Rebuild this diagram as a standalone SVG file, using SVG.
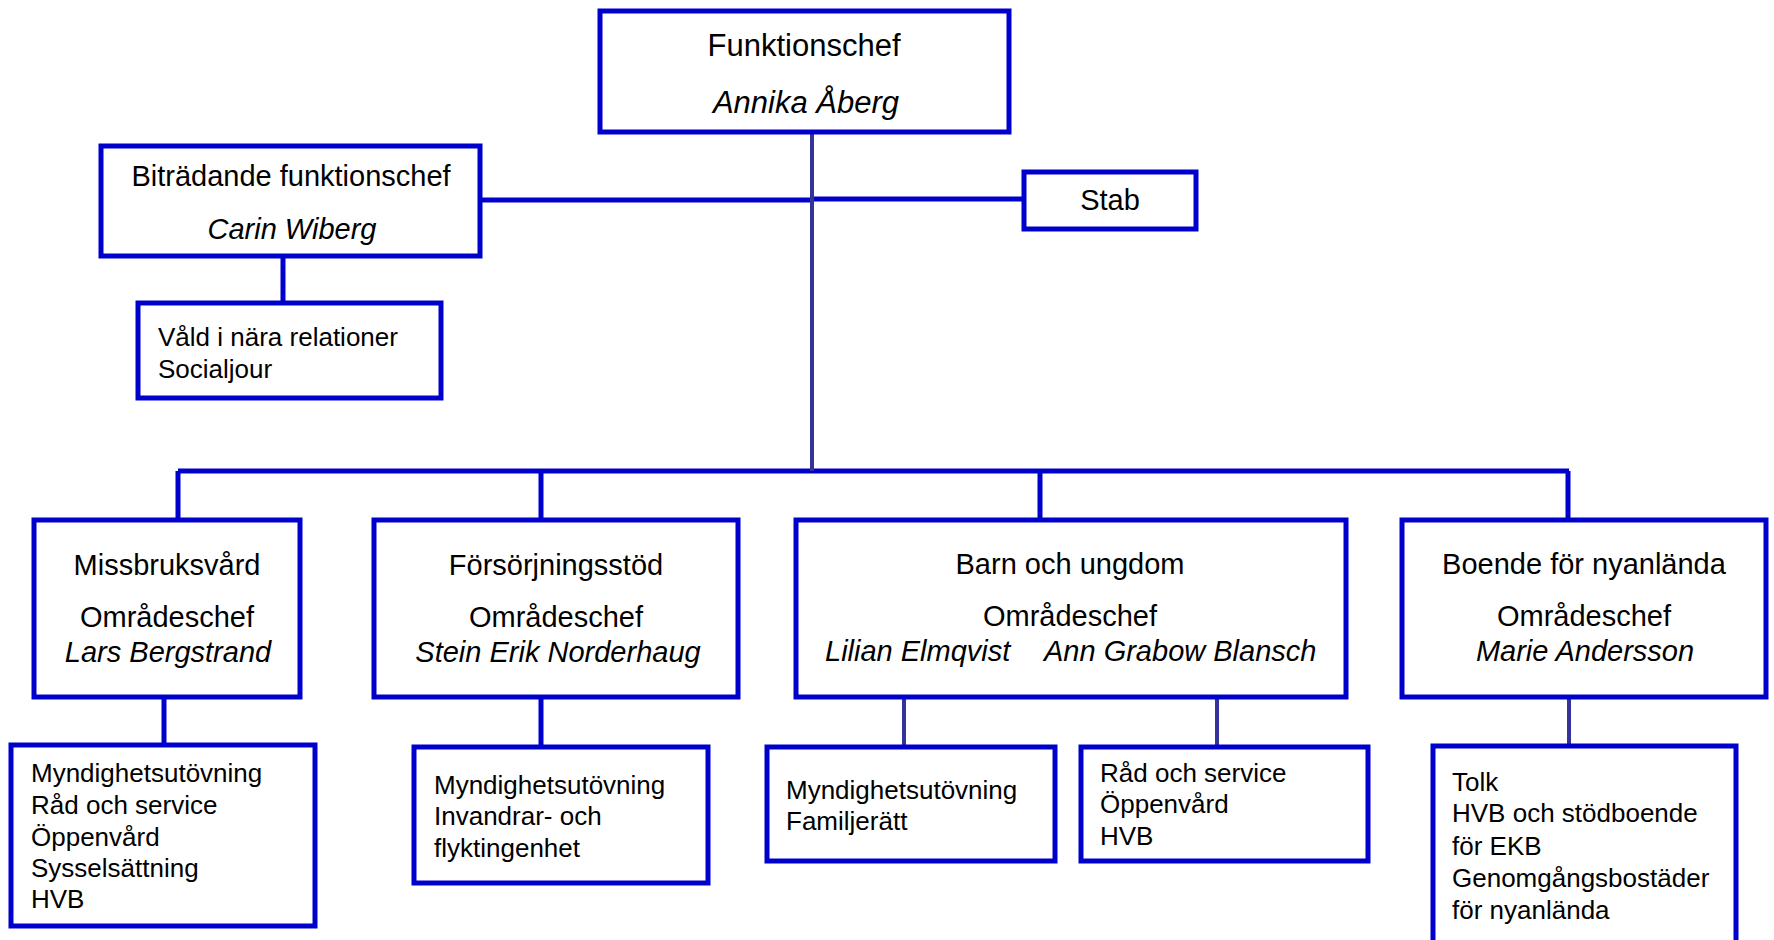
<svg xmlns="http://www.w3.org/2000/svg" width="1774" height="940" viewBox="0 0 1774 940">
<style>
.box{fill:#fff;stroke:#0000CC;stroke-width:5}
.ln{stroke:#0000CC;stroke-width:5;fill:none}
.dk{stroke:#333399;stroke-width:4;fill:none}
text{font-family:"Liberation Sans",Arial,sans-serif;fill:#000}
.h{font-size:29px;text-anchor:middle}
.hb{font-size:31px;text-anchor:middle}
.i{font-style:italic}
.s{font-size:26px}
</style>
<rect width="1774" height="940" fill="#fff"/>
<g id="connectors">
<line class="ln" x1="480" y1="200" x2="812" y2="200"/>
<line class="ln" x1="812" y1="199" x2="1024" y2="199"/>
<line class="ln" x1="283" y1="256" x2="283" y2="303"/>
<line class="ln" x1="178" y1="471" x2="1569" y2="471"/>
<line class="ln" x1="178" y1="471" x2="178" y2="519"/>
<line class="ln" x1="541" y1="471" x2="541" y2="519"/>
<line class="ln" x1="1040" y1="471" x2="1040" y2="519"/>
<line class="ln" x1="1568" y1="471" x2="1568" y2="519"/>
<line class="dk" x1="812" y1="132" x2="812" y2="471"/>
<line class="ln" x1="164" y1="697" x2="164" y2="744"/>
<line class="ln" x1="541" y1="697" x2="541" y2="747"/>
<line class="dk" x1="904" y1="697" x2="904" y2="747"/>
<line class="dk" x1="1217" y1="697" x2="1217" y2="747"/>
<line class="dk" x1="1569" y1="697" x2="1569" y2="745"/>
</g>
<g id="funktionschef">
<rect class="box" x="600" y="11" width="409" height="121"/>
<text class="hb" x="804" y="56">Funktionschef</text>
<text class="hb i" x="806" y="113">Annika Åberg</text>
</g>
<g id="bitradande">
<rect class="box" x="101" y="146" width="379" height="110"/>
<text class="h" x="291" y="186">Biträdande funktionschef</text>
<text class="h i" x="292" y="239">Carin Wiberg</text>
</g>
<g id="stab">
<rect class="box" x="1024" y="172" width="172" height="57"/>
<text class="h" x="1110" y="210">Stab</text>
</g>
<g id="vald">
<rect class="box" x="138" y="303" width="303" height="95"/>
<text class="s" x="158" y="346">Våld i nära relationer</text>
<text class="s" x="158" y="378">Socialjour</text>
</g>
<g id="missbruk">
<rect class="box" x="34" y="520" width="266" height="177"/>
<text class="h" x="167" y="575">Missbruksvård</text>
<text class="h" x="167" y="627">Områdeschef</text>
<text class="h i" x="168" y="662">Lars Bergstrand</text>
</g>
<g id="forsorjning">
<rect class="box" x="374" y="520" width="364" height="177"/>
<text class="h" x="556" y="575">Försörjningsstöd</text>
<text class="h" x="556" y="627">Områdeschef</text>
<text class="h i" x="558" y="662">Stein Erik Norderhaug</text>
</g>
<g id="barn">
<rect class="box" x="796" y="520" width="550" height="177"/>
<text class="h" x="1070" y="574">Barn och ungdom</text>
<text class="h" x="1070" y="626">Områdeschef</text>
<text class="s i" style="font-size:29px" x="825" y="661">Lilian Elmqvist</text>
<text class="s i" style="font-size:29px" x="1044" y="661">Ann Grabow Blansch</text>
</g>
<g id="boende">
<rect class="box" x="1402" y="520" width="364" height="177"/>
<text class="h" x="1584" y="574">Boende för nyanlända</text>
<text class="h" x="1584" y="626">Områdeschef</text>
<text class="h i" x="1585" y="661">Marie Andersson</text>
</g>
<g id="missbruk-sub">
<rect class="box" x="11" y="745" width="304" height="181"/>
<text class="s" x="31" y="782">Myndighetsutövning</text>
<text class="s" x="31" y="814">Råd och service</text>
<text class="s" x="31" y="846">Öppenvård</text>
<text class="s" x="31" y="877">Sysselsättning</text>
<text class="s" x="31" y="908">HVB</text>
</g>
<g id="forsorjning-sub">
<rect class="box" x="414" y="747" width="294" height="136"/>
<text class="s" x="434" y="794">Myndighetsutövning</text>
<text class="s" x="434" y="825">Invandrar- och</text>
<text class="s" x="434" y="857">flyktingenhet</text>
</g>
<g id="barn-sub1">
<rect class="box" x="767" y="747" width="288" height="114"/>
<text class="s" x="786" y="799">Myndighetsutövning</text>
<text class="s" x="786" y="830">Familjerätt</text>
</g>
<g id="barn-sub2">
<rect class="box" x="1081" y="747" width="287" height="114"/>
<text class="s" x="1100" y="782">Råd och service</text>
<text class="s" x="1100" y="813">Öppenvård</text>
<text class="s" x="1100" y="845">HVB</text>
</g>
<g id="boende-sub">
<rect class="box" x="1433" y="746" width="303" height="210"/>
<text class="s" x="1452" y="791">Tolk</text>
<text class="s" x="1452" y="822">HVB och stödboende</text>
<text class="s" x="1452" y="855">för EKB</text>
<text class="s" x="1452" y="887">Genomgångsbostäder</text>
<text class="s" x="1452" y="919">för nyanlända</text>
</g>
</svg>
